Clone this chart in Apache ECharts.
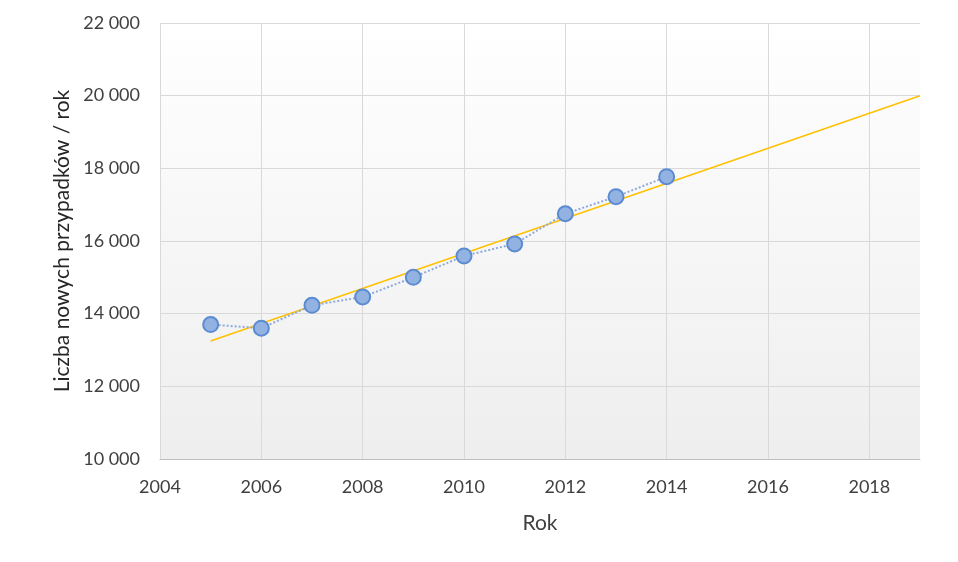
<!DOCTYPE html>
<html>
<head>
<meta charset="utf-8">
<script src="https://cdn.jsdelivr.net/npm/echarts@6/dist/echarts.min.js"></script>
<style>
  html, body { margin: 0; padding: 0; background: #fff; }
  #chart { width: 958px; height: 562px; }
</style>
</head>
<body>
<div id="chart"></div>
<script>
// dane
const years = [2005, 2006, 2007, 2008, 2009, 2010, 2011, 2012, 2013, 2014];
const cases = [13700, 13600, 14230, 14460, 15000, 15590, 15920, 16750, 17220, 17770];
// linia trendu (poczatek i koniec)
const trendYears = [2005, 2019];
const trendValues = [13250, 20000];

const font = "Lato, 'Open Sans', sans-serif";
let chart = echarts.init(document.getElementById("chart"));

chart.setOption({
  animation: false,
  grid: {
    left: 160,
    right: 38,
    top: 23,
    bottom: 103,
    show: true,
    borderWidth: 0,
    // tlo obszaru wykresu - lekki gradient
    backgroundColor: {
      type: "linear", x: 0, y: 0, x2: 0, y2: 1,
      colorStops: [
        { offset: 0, color: "#ffffff" },
        { offset: 1, color: "#eeeeee" },
      ],
    },
  },
  xAxis: {
    type: "value",
    min: 2004,
    max: 2019,
    interval: 2,
    name: "Rok",
    nameLocation: "middle",
    nameGap: 54,
    nameTextStyle: { fontFamily: font, fontSize: 21, color: "#404040" },
    axisLine: { show: true, lineStyle: { color: "#bfbfbf", width: 1 } },
    axisTick: { show: false },
    axisLabel: {
      fontFamily: font,
      fontSize: 18,
      color: "#404040",
      margin: 19,
      showMaxLabel: false,
      formatter: (v) => String(v),
    },
    splitLine: { show: true, showMaxLine: false, lineStyle: { color: "#d9d9d9", width: 1 } },
  },
  yAxis: {
    type: "value",
    min: 10000,
    max: 22000,
    interval: 2000,
    name: "Liczba nowych przypadków / rok",
    nameLocation: "middle",
    nameGap: 87,
    nameTextStyle: { fontFamily: font, fontSize: 21, color: "#262626" },
    axisLine: { show: false },
    axisTick: { show: false },
    axisLabel: {
      fontFamily: font,
      fontSize: 18,
      color: "#404040",
      margin: 20,
      formatter: (v) => String(v).replace(/\B(?=(\d{3})+(?!\d))/g, " "),
    },
    splitLine: { show: true, lineStyle: { color: "#d9d9d9", width: 1 } },
  },
  series: [
    {
      type: "line",
      data: trendYears.map((y, i) => [y, trendValues[i]]),
      symbol: "none",
      lineStyle: { color: "#ffc000", width: 1.5 },
      z: 3,
    },
    {
      type: "line",
      data: years.map((y, i) => [y, cases[i]]),
      symbol: "circle",
      symbolSize: 15,
      lineStyle: { color: "#8faadc", width: 2, type: "dotted" },
      itemStyle: { color: "#92b2e2", borderColor: "#5b8bd0", borderWidth: 2 },
      z: 4,
    },
  ],
});
</script>
</body>
</html>
